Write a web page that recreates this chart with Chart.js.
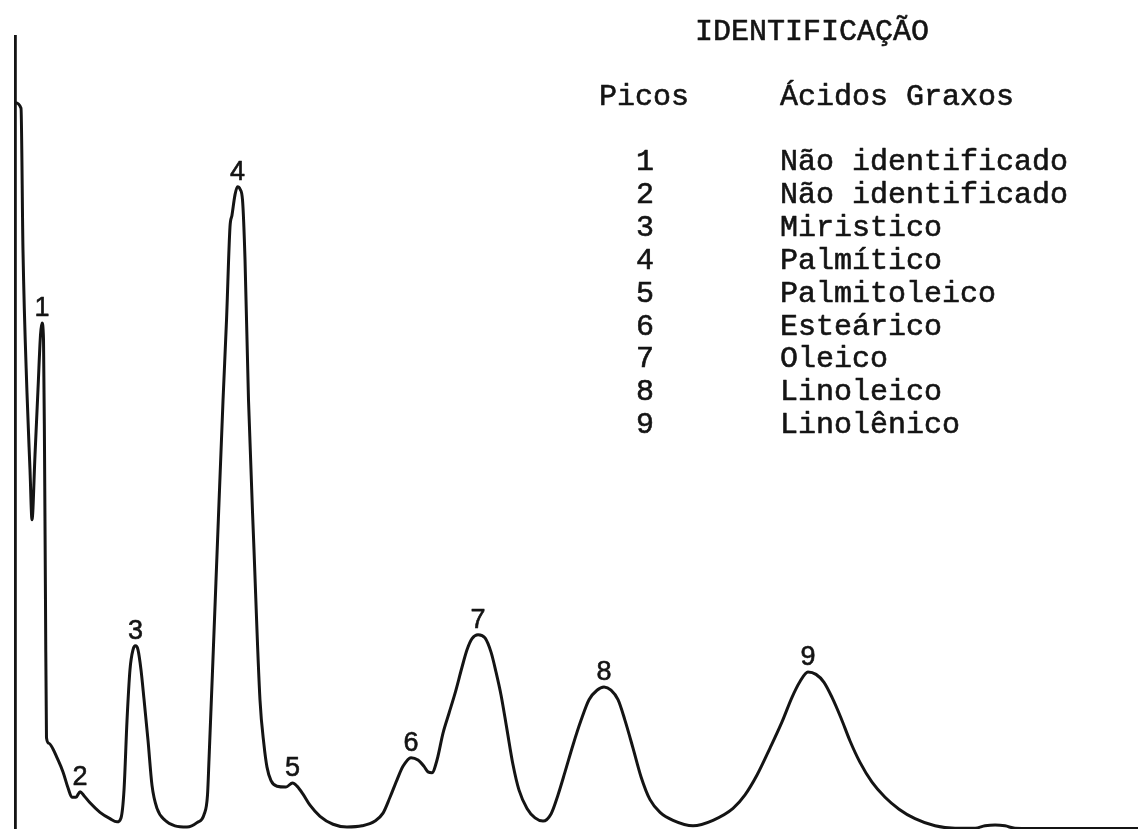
<!DOCTYPE html>
<html>
<head>
<meta charset="utf-8">
<title>Cromatograma - ácidos graxos</title>
<script src="https://cdn.jsdelivr.net/npm/chart.js@4/dist/chart.umd.min.js"></script>
<style>
  html, body { margin: 0; padding: 0; background: #ffffff; }
  #wrap { width: 1138px; height: 829px; position: relative; }
</style>
</head>
<body>
<div id="wrap"><canvas id="chrom" width="1138" height="829"></canvas></div>
<script>
// Detector trace: retention time (min) and response (% of full scale)
const retentionTime = [
  0.000, 0.150, 0.199, 0.299, 0.374, 0.424, 0.499, 0.573, 0.636, 0.673,
  0.711, 0.736, 0.760, 0.785, 0.848, 0.947, 1.047, 1.197, 1.321, 1.421,
  1.521, 1.621, 1.720, 1.870, 2.119, 2.369, 2.543, 2.643, 2.718, 2.793,
  2.867, 2.942, 3.004, 3.067, 3.141, 3.216, 3.316, 3.416, 3.541, 3.740,
  3.989, 4.288, 4.538, 4.712, 4.800, 4.837, 4.945, 5.070, 5.187, 5.274,
  5.360, 5.410, 5.486, 5.548, 5.610, 5.673, 5.735, 5.822, 5.959, 6.108,
  6.208, 6.283, 6.383, 6.533, 6.757, 6.919, 7.031, 7.181, 7.355, 7.605,
  7.929, 8.278, 8.652, 8.976, 9.176, 9.350, 9.525, 9.674, 9.874, 10.048,
  10.198, 10.298, 10.397, 10.522, 10.672, 10.821, 10.971, 11.145, 11.270, 11.395,
  11.545, 11.719, 11.869, 11.993, 12.118, 12.268, 12.417, 12.567, 12.766, 12.966,
  13.165, 13.365, 13.539, 13.714, 13.913, 14.113, 14.312, 14.511, 14.686, 14.860,
  15.035, 15.209, 15.409, 15.608, 15.833, 16.083, 16.407, 16.905, 17.404, 17.903,
  18.202, 18.501, 18.825, 19.124, 19.373, 19.573, 19.772, 19.972, 20.171, 20.371,
  20.595, 20.820, 21.069, 21.368, 21.693, 22.042, 22.441, 22.940, 23.439, 23.938,
  24.187, 24.437, 24.684, 24.933, 25.806, 28.000
];
const detectorResponse = [
  91.6, 90.9, 73.0, 55.0, 45.3, 39.0, 47.2, 55.4, 62.3, 63.8,
  61.7, 47.8, 28.9, 11.5, 10.8, 10.1, 9.0, 7.2, 5.2, 4.0,
  4.0, 4.7, 4.2, 3.3, 2.1, 1.3, 0.9, 1.4, 4.9, 13.7,
  20.1, 22.6, 23.1, 22.6, 20.1, 16.4, 11.2, 5.5, 2.6, 1.1,
  0.4, 0.25, 0.8, 1.8, 4.3, 8.7, 22.6, 39.0, 54.1, 64.2,
  75.9, 77.4, 80.0, 81.0, 80.7, 79.3, 71.8, 54.1, 35.2, 16.3,
  10.6, 7.8, 6.1, 5.4, 5.3, 5.8, 5.4, 4.4, 3.0, 1.6,
  0.6, 0.25, 0.4, 1.0, 2.0, 4.0, 6.2, 7.9, 9.0, 8.7,
  7.9, 7.2, 7.1, 8.7, 12.1, 14.6, 17.1, 20.4, 22.6, 24.0,
  24.5, 24.1, 22.3, 19.8, 16.9, 12.5, 8.1, 4.9, 2.6, 1.4,
  1.0, 1.9, 4.3, 7.2, 10.6, 13.7, 16.3, 17.5, 17.9, 17.5,
  16.3, 13.7, 10.2, 6.6, 3.7, 2.1, 1.1, 0.4, 1.1, 2.6,
  4.3, 6.8, 10.2, 13.5, 16.6, 18.6, 19.8, 19.5, 18.5, 16.6,
  14.0, 11.1, 8.4, 5.9, 4.0, 2.5, 1.3, 0.4, 0.1, 0.1,
  0.4, 0.5, 0.4, 0.1, 0.05, 0.05
];

// Identified peaks: number, apex time and apex response
const peakNumbers = ['1', '2', '3', '4', '5', '6', '7', '8', '9'];
const peakTimes = [0.673, 1.621, 3.004, 5.548, 6.919, 9.874, 11.545, 14.686, 19.772];
const peakHeights = [63.8, 4.7, 23.1, 81.0, 5.8, 9.0, 24.5, 17.9, 19.8];

// Identification table
const tableTitle = 'IDENTIFICAÇÃO';
const tableHeaders = ['Picos', 'Ácidos Graxos'];
const fattyAcids = [
  'Não identificado', 'Não identificado', 'Miristico', 'Palmítico',
  'Palmitoleico', 'Esteárico', 'Oleico', 'Linoleico', 'Linolênico'
];

const trace = retentionTime.map((t, i) => ({ x: t, y: detectorResponse[i] }));

const INK = '#141414';
const TYPEWRITER = '30px "Liberation Mono", "DejaVu Sans Mono", monospace';
const PEAK_FONT = '27px "Liberation Sans", Arial, sans-serif';

// Typed text: filled and lightly stroked for a ribbon-ink weight
function typeText(ctx, text, x, y) {
  ctx.fillText(text, x, y);
  ctx.strokeText(text, x, y);
}

// Peak numbers above each apex and the identification table
const annotations = {
  id: 'chromAnnotations',
  afterDatasetsDraw(chart) {
    const { ctx, scales } = chart;
    ctx.save();
    ctx.fillStyle = INK;
    ctx.strokeStyle = INK;
    ctx.lineWidth = 0.6;
    ctx.lineJoin = 'round';

    ctx.font = PEAK_FONT;
    ctx.textAlign = 'center';
    ctx.textBaseline = 'alphabetic';
    peakNumbers.forEach((n, i) => {
      const px = scales.x.getPixelForValue(peakTimes[i]);
      const py = scales.y.getPixelForValue(peakHeights[i]);
      typeText(ctx, n, px, py - 7);
    });

    ctx.font = TYPEWRITER;
    ctx.textAlign = 'left';
    typeText(ctx, tableTitle, 695, 40);
    typeText(ctx, tableHeaders[0], 599, 105);
    typeText(ctx, tableHeaders[1], 780, 105);
    fattyAcids.forEach((name, i) => {
      const base = 170 + i * 32.9;
      ctx.textAlign = 'center';
      typeText(ctx, peakNumbers[i], 645, base);
      ctx.textAlign = 'left';
      typeText(ctx, name, 780, base);
    });
    ctx.restore();
  }
};

new Chart(document.getElementById('chrom').getContext('2d'), {
  type: 'line',
  data: {
    datasets: [{
      label: 'Resposta do detector',
      data: trace,
      borderColor: INK,
      borderWidth: 3,
      pointRadius: 0,
      fill: false,
      cubicInterpolationMode: 'monotone',
      clip: 6
    }]
  },
  options: {
    responsive: false,
    animation: false,
    events: [],
    layout: { padding: { left: 15, top: 36, right: 0, bottom: 0 } },
    scales: {
      x: { type: 'linear', min: 0, max: 28, display: false },
      y: {
        min: 0, max: 100,
        ticks: { display: false },
        grid: { display: false, drawTicks: false },
        border: { display: true, color: INK, width: 2.8 }
      }
    },
    plugins: { legend: { display: false }, tooltip: { enabled: false } }
  },
  plugins: [annotations]
});
</script>
</body>
</html>
